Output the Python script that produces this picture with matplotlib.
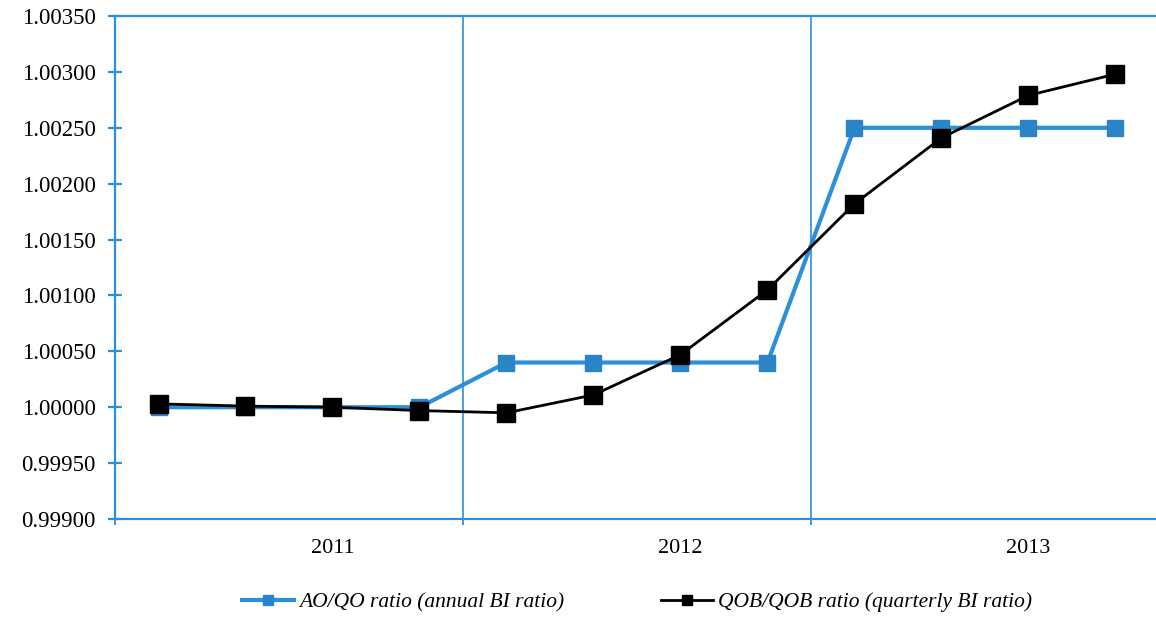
import matplotlib
matplotlib.use("Agg")
import matplotlib.pyplot as plt
from matplotlib.ticker import FixedLocator, FormatStrFormatter, NullFormatter
from matplotlib.lines import Line2D

# quarterly observations, 2011 Q1 .. 2013 Q4
years = ["2011", "2012", "2013"]
annual_ratio = [1.00000, 1.00000, 1.00000, 1.00000,
                1.00040, 1.00040, 1.00040, 1.00040,
                1.00250, 1.00250, 1.00250, 1.00250]
quarterly_ratio = [1.00003, 1.00001, 1.00000, 0.99997,
                   0.99995, 1.00011, 1.00047, 1.00105,
                   1.00182, 1.00241, 1.00279, 1.00298]
y_ticks = [0.99900, 0.99950, 1.00000, 1.00050, 1.00100, 1.00150,
           1.00200, 1.00250, 1.00300, 1.00350]

blue = "#2b8fd9"
blue_mk = "#2a84c8"
serif = "Liberation Serif"

fig = plt.figure(figsize=(11.56, 6.21), dpi=100)
ax = fig.add_axes([115 / 1156, 1 - 519 / 621, 1044 / 1156, 503 / 621])

xs = [i + 0.5 for i in range(len(annual_ratio))]
ax.plot(xs, annual_ratio, color=blue, lw=3, marker="s", ms=12,
        mfc=blue_mk, mec=blue_mk, zorder=3)
ax.plot(xs, quarterly_ratio, color="black", lw=2, marker="s", ms=13,
        mfc="black", mec="black", zorder=4)

ax.set_xlim(0, 12)
ax.set_ylim(y_ticks[0], y_ticks[-1])

for side in ["left", "bottom", "top"]:
    ax.spines[side].set_color(blue)
    ax.spines[side].set_linewidth(1.6)
ax.spines["right"].set_visible(False)

ax.yaxis.set_major_locator(FixedLocator(y_ticks))
ax.yaxis.set_major_formatter(FormatStrFormatter("%.5f"))
ax.tick_params(axis="y", direction="inout", length=10, width=1.6, color=blue,
               labelsize=16.5, pad=9)

# year boundaries
ax.xaxis.set_major_locator(FixedLocator([0, 4, 8, 12]))
ax.xaxis.set_major_formatter(NullFormatter())
ax.tick_params(axis="x", direction="out", length=4, width=1.3, color=blue)
for b in [4, 8]:
    ax.axvline(b, color=blue, lw=1.2, zorder=1)

for k, yr in enumerate(years):
    ax.text(4 * k + 2.5, -0.058, yr, transform=ax.get_xaxis_transform(),
            ha="center", va="center", fontsize=16, family=serif)

for lab in ax.get_yticklabels():
    lab.set_family(serif)

handles = [
    Line2D([], [], color=blue, lw=3, marker="s", ms=7, mfc=blue_mk, mec=blue_mk),
    Line2D([], [], color="black", lw=2, marker="s", ms=7, mfc="black", mec="black"),
]
labels = ["AO/QO ratio (annual BI ratio)", "QOB/QOB ratio (quarterly BI ratio)"]
fig.legend(handles, labels, loc="center", bbox_to_anchor=(0.551, 1 - 602 / 621),
           ncol=2, frameon=False, handlelength=2.4, handletextpad=0.25,
           columnspacing=4.5,
           prop={"family": serif, "style": "italic", "size": 15.5})

fig.savefig("out.png", dpi=100)
